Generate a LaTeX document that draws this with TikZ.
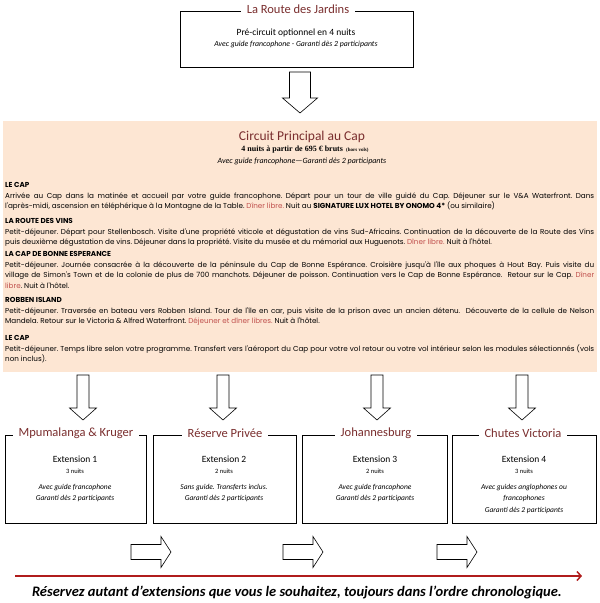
\documentclass[tikz,border=0pt]{standalone}
\usepackage{fontspec}
\setmainfont{Carlito}
\newfontfamily\gothic{Poppins}
\newfontfamily\serifb{Liberation Serif}
\usetikzlibrary{arrows.meta}
\definecolor{maroon}{HTML}{7A2E2E}
\definecolor{peach}{HTML}{FDE6D3}
\definecolor{redtxt}{HTML}{C0504D}
\definecolor{darkred}{HTML}{B01C1C}
\newcommand\rt[1]{\textcolor{redtxt}{#1}}
\frenchspacing
\tikzset{
  frame/.style={draw=black, line width=1.3pt, inner sep=0pt},
  boxtitle/.style={fill=white, text=maroon, font=\fontsize{12.5}{14}\selectfont, inner xsep=6pt, inner ysep=1pt, yshift=1.5pt},
  blockarrow/.style={draw=black, fill=white, line width=0.6pt},
  sec/.style={anchor=north west, inner sep=0pt, text width=589pt, align=justify, font=\gothic\fontsize{7.2}{10.8}\selectfont},
  exttitle/.style={font=\fontsize{9.5}{11}\selectfont, inner sep=0pt},
  extsmall/.style={font=\fontsize{6.5}{8}\selectfont, inner sep=0pt},
  extital/.style={font=\itshape\fontsize{7.5}{11.5}\selectfont, inner sep=0pt, align=center},
  pics/bigdown/.style={code={\draw[blockarrow] (-10.5,0) -- (10.5,0) -- (10.5,26) -- (17.5,26) -- (0,41) -- (-17.5,26) -- (-10.5,26) -- cycle;}},
  pics/smalldown/.style={code={\draw[blockarrow] (-6,0) -- (6,0) -- (6,33) -- (13.5,33) -- (0,45) -- (-13.5,33) -- (-6,33) -- cycle;}},
  pics/right/.style={code={\draw[blockarrow] (0,-7.5) -- (30,-7.5) -- (30,-15.5) -- (40,0) -- (30,15.5) -- (30,7.5) -- (0,7.5) -- cycle;}},
}
\begin{document}
\begin{tikzpicture}[x=1pt,y=-1pt]
\useasboundingbox (0,0) rectangle (600,603);

% top box
\node[frame, minimum width=233pt, minimum height=56pt, anchor=north west] (top) at (180,11) {};
\node[boxtitle] (toptitle) at (298,11) {La Route des Jardins};
\node[font=\fontsize{9.5}{11}\selectfont, inner sep=0pt] (topl1) at (296,33) {Pré-circuit optionnel en 4 nuits};
\node[font=\itshape\fontsize{7.8}{9}\selectfont, inner sep=0pt] (topl2) at (296,44) {Avec guide francophone - Garanti dès 2 participants};

\pic at (300,72) {bigdown};

% main peach block
\node[fill=peach, minimum width=594pt, minimum height=251pt, anchor=north west, inner sep=0pt] (main) at (3,121) {};
\node[text=maroon, font=\fontsize{13.5}{15}\selectfont, inner sep=0pt] (mtitle) at (302,137) {Circuit Principal au Cap};
\node[font=\serifb\bfseries\fontsize{8}{9}\selectfont, inner sep=0pt] (mprice) at (305,150) {4 nuits à partir de 695 € bruts {\fontsize{5}{6}\selectfont\ (hors vols)}};
\node[font=\itshape\fontsize{8}{9}\selectfont, inner sep=0pt] (msub) at (302,161) {Avec guide francophone—Garanti dès 2 participants};

\node[sec] (s1) at (5,182) {{\bfseries LE CAP}\par
Arrivée au Cap dans la matinée et accueil par votre guide francophone. Départ pour un tour de ville guidé du Cap. Déjeuner sur le V\&A Waterfront. Dans\linebreak
l'après-midi, ascension en téléphérique à la Montagne de la Table. \rt{Dîner libre.} Nuit au \textbf{SIGNATURE LUX HOTEL BY ONOMO 4*} (ou similaire)};

\node[sec] (s2) at (5,218) {{\bfseries LA ROUTE DES VINS}\par
Petit-déjeuner. Départ pour Stellenbosch. Visite d'une propriété viticole et dégustation de vins Sud-Africains. Continuation de la découverte de la Route des Vins\linebreak
puis deuxième dégustation de vins. Déjeuner dans la propriété. Visite du musée et du mémorial aux Huguenots. \rt{Dîner libre.} Nuit à l'hôtel.};

\node[sec] (s3) at (5,251) {{\bfseries LA CAP DE BONNE ESPERANCE}\par
Petit-déjeuner. Journée consacrée à la découverte de la péninsule du Cap de Bonne Espérance. Croisière jusqu'à l'île aux phoques à Hout Bay. Puis visite du\linebreak
village de Simon's Town et de la colonie de plus de 700 manchots. Déjeuner de poisson. Continuation vers le Cap de Bonne Espérance.\ \ Retour sur le Cap. \rt{Dîner}\linebreak
\rt{libre}. Nuit à l'hôtel.};

\node[sec] (s4) at (5,297) {{\bfseries ROBBEN ISLAND}\par
Petit-déjeuner. Traversée en bateau vers Robben Island. Tour de l'île en car, puis visite de la prison avec un ancien détenu.\ \ Découverte de la cellule de Nelson\linebreak
Mandela. Retour sur le Victoria \& Alfred Waterfront. \rt{Déjeuner et dîner libres.} Nuit à l'hôtel.};

\node[sec] (s5) at (5,335) {{\bfseries LE CAP}\par
Petit-déjeuner. Temps libre selon votre programme. Transfert vers l'aéroport du Cap pour votre vol retour ou votre vol intérieur selon les modules sélectionnés (vols\linebreak
non inclus).};

% down arrows
\pic at (83,375) {smalldown};
\pic at (223,375) {smalldown};
\pic at (377,375) {smalldown};
\pic at (522,375) {smalldown};

% extension boxes
\node[frame, minimum width=141pt, minimum height=88pt, anchor=north west] (e1) at (5,435) {};
\node[frame, minimum width=143pt, minimum height=88pt, anchor=north west] (e2) at (153,435) {};
\node[frame, minimum width=145pt, minimum height=88pt, anchor=north west] (e3) at (302,435) {};
\node[frame, minimum width=144pt, minimum height=88pt, anchor=north west] (e4) at (452,435) {};

\node[boxtitle] (t1) at (76,435) {Mpumalanga \& Kruger};
\node[boxtitle] (t2) at (225,435) {Réserve Privée};
\node[boxtitle] (t3) at (376,435) {Johannesburg};
\node[boxtitle] (t4) at (523,435) {Chutes Victoria};

\node[exttitle] (x1) at (75,459) {Extension 1};
\node[extsmall] (n1) at (75,471) {3 nuits};
\node[extital, anchor=north] (i1) at (75,484) {Avec guide francophone\\Garanti dès 2 participants};

\node[exttitle] (x2) at (224,459) {Extension 2};
\node[extsmall] (n2) at (224,471) {2 nuits};
\node[extital, anchor=north] (i2) at (224,484) {Sans guide. Transferts inclus.\\Garanti dès 2 participants};

\node[exttitle] (x3) at (375,459) {Extension 3};
\node[extsmall] (n3) at (375,471) {2 nuits};
\node[extital, anchor=north] (i3) at (375,484) {Avec guide francophone\\Garanti dès 2 participants};

\node[exttitle] (x4) at (524,459) {Extension 4};
\node[extsmall] (n4) at (524,471) {3 nuits};
\node[extital, anchor=north] (i4) at (524,484) {Avec guides anglophones ou\\francophones\\Garanti dès 2 participants};

% right arrows
\pic at (131,552) {right};
\pic at (283,552) {right};
\pic at (437,552) {right};

% timeline
\coordinate (ls) at (15,576);
\coordinate (le) at (582,576);
\draw[darkred, line width=1.5pt, -{Straight Barb[length=4pt,width=9pt]}] (ls) -- (le);
\node[font=\bfseries\itshape\fontsize{14.5}{16}\selectfont, inner sep=0pt] (note) at (297,592) {Réservez autant d’extensions que vous le souhaitez, toujours dans l’ordre chronologique.};
\end{tikzpicture}
\end{document}
